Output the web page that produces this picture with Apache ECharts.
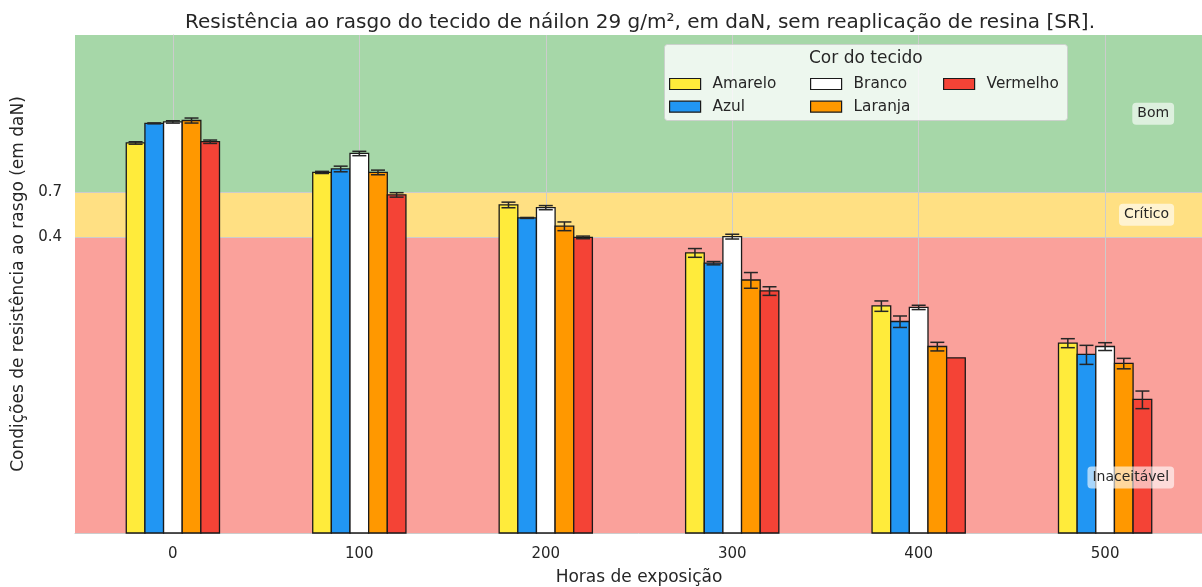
<!DOCTYPE html>
<html>
<head>
<meta charset="utf-8">
<script src="https://cdn.jsdelivr.net/npm/echarts@6/dist/echarts.min.js"></script>
<style>
html,body{margin:0;padding:0;background:#ffffff;}
#chart{width:1202px;height:587px;}
</style>
</head>
<body>
<div id="chart"></div>
<script>
// Exposure hours (x positions of the groups)
const hours = [0, 100, 200, 300, 400, 500];
const xTicks = [0, 100, 200, 300, 400, 500];
const yTicks = [0.4, 0.7];

// Tear strength (daN) and its error, one pair of arrays per fabric colour
const amarelo     = [1.30, 0.90, 0.60, 0.330, 0.170, 0.107];
const amareloErr  = [0.020, 0.012, 0.021, 0.018, 0.011, 0.006];
const azul        = [1.66, 0.94, 0.51, 0.290, 0.140, 0.093];
const azulErr     = [0.010, 0.033, 0.003, 0.006, 0.010, 0.011];
const branco      = [1.69, 1.14, 0.58, 0.404, 0.167, 0.1025];
const brancoErr   = [0.025, 0.031, 0.015, 0.012, 0.0045, 0.005];
const laranja     = [1.72, 0.90, 0.46, 0.235, 0.1025, 0.083];
const laranjaErr  = [0.054, 0.026, 0.025, 0.023, 0.0055, 0.0054];
const vermelho    = [1.32, 0.68, 0.40, 0.205, 0.089, 0.053];
const vermelhoErr = [0.028, 0.019, 0.0065, 0.011, 0.0, 0.0058];

const fabricNames = ['Amarelo', 'Azul', 'Branco', 'Laranja', 'Vermelho'];
const fabricColors = ['#ffeb3b', '#2196f3', '#ffffff', '#ff9800', '#f44336'];
const fabricValues = [amarelo, azul, branco, laranja, vermelho];
const fabricErrors = [amareloErr, azulErr, brancoErr, laranjaErr, vermelhoErr];

// Condition bands
const bandLower = [0.7, 0.4, 0.01];
const bandUpper = [5, 0.7, 0.4];
const bandFills = ['#a6d7a8', '#ffe083', '#faa19b'];
const bandNames = ['Bom', 'Crítico', 'Inaceitável'];
const bandLabelY = [1.87, 0.53, 0.02];

const X_MIN = -52.5, X_MAX = 552.5;
const Y_MIN = 0.01, Y_MAX = 5;
const BAR_W = 10;
const LABEL_X = 537;
const TEXT = '#262626';
const FONT = '"DejaVu Sans", sans-serif';

function barRenderer(slot) {
  return function (params, api) {
    const h = api.value(0), v = api.value(1), e = api.value(2);
    const off = (slot - 2) * BAR_W;
    const tl = api.coord([h + off - BAR_W / 2, v]);
    const br = api.coord([h + off + BAR_W / 2, Y_MIN]);
    const cx = (tl[0] + br[0]) / 2;
    const children = [{
      type: 'rect',
      shape: { x: tl[0], y: tl[1], width: br[0] - tl[0], height: br[1] - tl[1] },
      style: { fill: api.visual('color'), stroke: '#1a1a1a', lineWidth: 1.3 }
    }];
    if (e > 0) {
      const hi = api.coord([h + off, v + e])[1];
      const lo = api.coord([h + off, v - e])[1];
      const es = { stroke: '#262626', lineWidth: 1.5 };
      children.push(
        { type: 'line', shape: { x1: cx, y1: hi, x2: cx, y2: lo }, style: es },
        { type: 'line', shape: { x1: cx - 7, y1: hi, x2: cx + 7, y2: hi }, style: es },
        { type: 'line', shape: { x1: cx - 7, y1: lo, x2: cx + 7, y2: lo }, style: es }
      );
    }
    return { type: 'group', children: children };
  };
}

const barSeries = fabricNames.map(function (name, i) {
  return {
    name: name,
    type: 'custom',
    z: 3,
    itemStyle: { color: fabricColors[i], borderColor: '#1a1a1a', borderWidth: 1 },
    renderItem: barRenderer(i),
    data: hours.map(function (h, k) { return [h, fabricValues[i][k], fabricErrors[i][k]]; }),
    encode: { x: 0, y: 1 }
  };
});

const bandSeries = {
  type: 'custom',
  name: 'faixas',
  z: 1,
  silent: true,
  renderItem: function (params, api) {
    const a = api.coord([X_MIN, api.value(1)]);
    const b = api.coord([X_MAX, api.value(0)]);
    return {
      type: 'rect',
      shape: { x: a[0], y: a[1], width: b[0] - a[0], height: b[1] - a[1] },
      style: { fill: bandFills[params.dataIndex] }
    };
  },
  data: bandLower.map(function (lo, i) { return [lo, bandUpper[i]]; }),
  encode: { x: -1, y: [0, 1] }
};

const bandLabelSeries = {
  type: 'custom',
  name: 'rótulos',
  z: 4,
  silent: true,
  renderItem: function (params, api) {
    const p = api.coord([LABEL_X, api.value(1)]);
    return {
      type: 'text',
      x: p[0], y: p[1],
      style: {
        text: bandNames[params.dataIndex],
        align: 'right', verticalAlign: 'middle',
        font: '14px ' + FONT,
        fill: TEXT,
        backgroundColor: 'rgba(255,255,255,0.62)',
        padding: [4, 5, 4, 5],
        borderRadius: 4
      }
    };
  },
  data: bandLabelY.map(function (y) { return [LABEL_X, y]; }),
  encode: { x: 0, y: 1 }
};

const legendCommon = {
  orient: 'vertical',
  top: 70.5,
  itemWidth: 31,
  itemHeight: 11,
  itemGap: 5.7,
  icon: 'rect',
  itemStyle: { borderColor: '#1a1a1a', borderWidth: 1.2 },
  textStyle: { fontFamily: FONT, fontSize: 15.3, color: TEXT, lineHeight: 17, padding: [0, 0, 0, 7] },
  selectedMode: false,
  z: 6
};

const chart = echarts.init(document.getElementById('chart'), null, { renderer: 'canvas' });
chart.setOption({
  animation: false,
  backgroundColor: '#ffffff',
  title: {
    text: 'Resistência ao rasgo do tecido de náilon 29 g/m², em daN, sem reaplicação de resina [SR].',
    left: 635, top: 8, textAlign: 'center',
    textStyle: { fontFamily: FONT, fontSize: 20, fontWeight: 'normal', color: TEXT }
  },
  grid: { left: 75, top: 35, width: 1128, height: 498, containLabel: false, outerBoundsMode: 'none' },
  graphic: [
    {
      type: 'rect', z: 5, left: 664, top: 44,
      shape: { width: 403, height: 76, r: 3 },
      style: { fill: 'rgba(255,255,255,0.8)', stroke: 'rgba(204,204,204,0.8)', lineWidth: 1 }
    },
    {
      type: 'text', z: 6, left: 809, top: 50,
      style: { text: 'Cor do tecido', font: '17px ' + FONT, fill: TEXT }
    }
  ],
  legend: [
    Object.assign({}, legendCommon, { left: 664, data: ['Amarelo', 'Azul'] }),
    Object.assign({}, legendCommon, { left: 805, data: ['Branco', 'Laranja'] }),
    Object.assign({}, legendCommon, { left: 938, data: ['Vermelho'] })
  ],
  xAxis: {
    type: 'value',
    min: X_MIN, max: X_MAX,
    z: 2,
    name: 'Horas de exposição',
    nameLocation: 'middle',
    nameGap: 36,
    nameTextStyle: { fontFamily: FONT, fontSize: 17, color: TEXT },
    axisLine: { show: true, lineStyle: { color: '#cccccc', width: 1 } },
    axisTick: { show: false, customValues: xTicks },
    axisLabel: { customValues: xTicks, margin: 14, fontFamily: FONT, fontSize: 15, color: TEXT },
    splitLine: { show: true, lineStyle: { color: '#cccccc', width: 1 } }
  },
  yAxis: {
    type: 'log',
    logBase: 10,
    min: Y_MIN, max: Y_MAX,
    z: 2,
    name: 'Condições de resistência ao rasgo (em daN)',
    nameLocation: 'middle',
    nameGap: 46,
    nameTextStyle: { fontFamily: FONT, fontSize: 17, color: TEXT },
    axisLine: { show: true, lineStyle: { color: '#cccccc', width: 1 } },
    axisTick: { show: false, customValues: yTicks },
    axisLabel: { customValues: yTicks, margin: 13, fontFamily: FONT, fontSize: 15, color: TEXT,
      formatter: function (v) { return String(v); } },
    splitLine: { show: true, lineStyle: { color: '#cccccc', width: 1 } }
  },
  series: [bandSeries].concat(barSeries, [bandLabelSeries])
});
</script>
</body>
</html>
